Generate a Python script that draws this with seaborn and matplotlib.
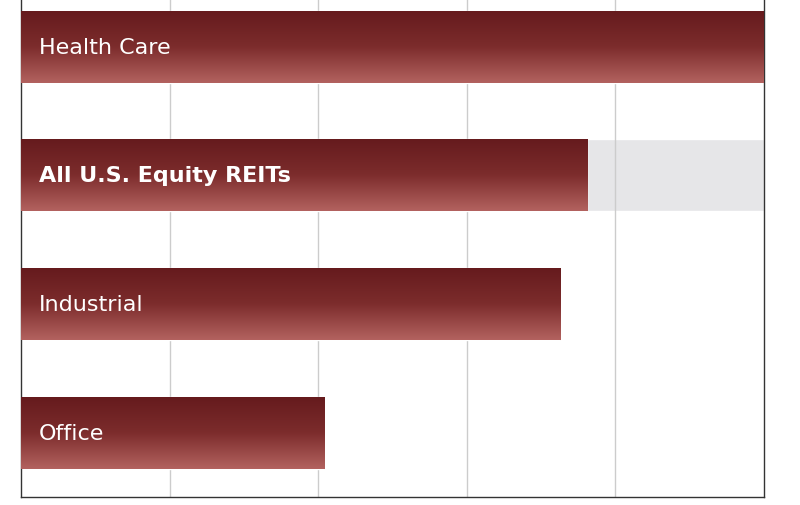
import matplotlib
matplotlib.use("Agg")
import matplotlib.pyplot as plt
import seaborn as sns
import numpy as np
import pandas as pd
from matplotlib.colors import LinearSegmentedColormap

categories = ["Health Care", "All U.S. Equity REITs", "Industrial", "Office"]
values = [5.0, 3.81, 3.63, 2.04]
xmax = 5.0

sns.set_style("white")
plt.rcParams['font.family'] = ['Liberation Sans Narrow', 'DejaVu Sans']

fig = plt.figure(figsize=(8, 5.06), dpi=100)
ax = fig.add_axes([21/800, 8/506, 743/800, 498/506])
df = pd.DataFrame({"cat": categories, "val": values})

# grey band behind the highlighted row
ax.barh(1, xmax, height=0.56, color="#e6e6e8", zorder=0)
sns.barplot(data=df, x="val", y="cat", orient="h", width=0.56, color="#7a2a2a", ax=ax, zorder=2)

cmap = LinearSegmentedColormap.from_list("g", ["#651a1d", "#7c2c2c", "#b3625f"])
grad = np.linspace(0, 1, 256).reshape(-1, 1)
for p in ax.patches[1:]:
    x0, y0, w, h = p.get_x(), p.get_y(), p.get_width(), p.get_height()
    im = ax.imshow(grad, cmap=cmap, aspect="auto", extent=[x0, x0 + w, y0 + h, y0], zorder=3)
    im.set_clip_path(p)

for i, c in enumerate(categories):
    ax.text(0.12, i, c, color="white", va="center", ha="left", fontsize=16,
            fontweight="bold" if i == 1 else "normal", zorder=5)

ax.set_xlim(0, xmax)
ax.set_ylim(3.5, -0.37)
ax.set_xticks([1, 2, 3, 4])
ax.grid(axis="x", color="#cccccc", linewidth=1, zorder=1)
ax.set_axisbelow(True)
ax.tick_params(length=0, labelbottom=False, labelleft=False)
ax.set_xlabel("")
ax.set_ylabel("")
for s in ["left", "bottom", "right"]:
    ax.spines[s].set_color("#333333")
    ax.spines[s].set_linewidth(1)
ax.spines["top"].set_visible(False)
fig.savefig("out.png", dpi=100)
